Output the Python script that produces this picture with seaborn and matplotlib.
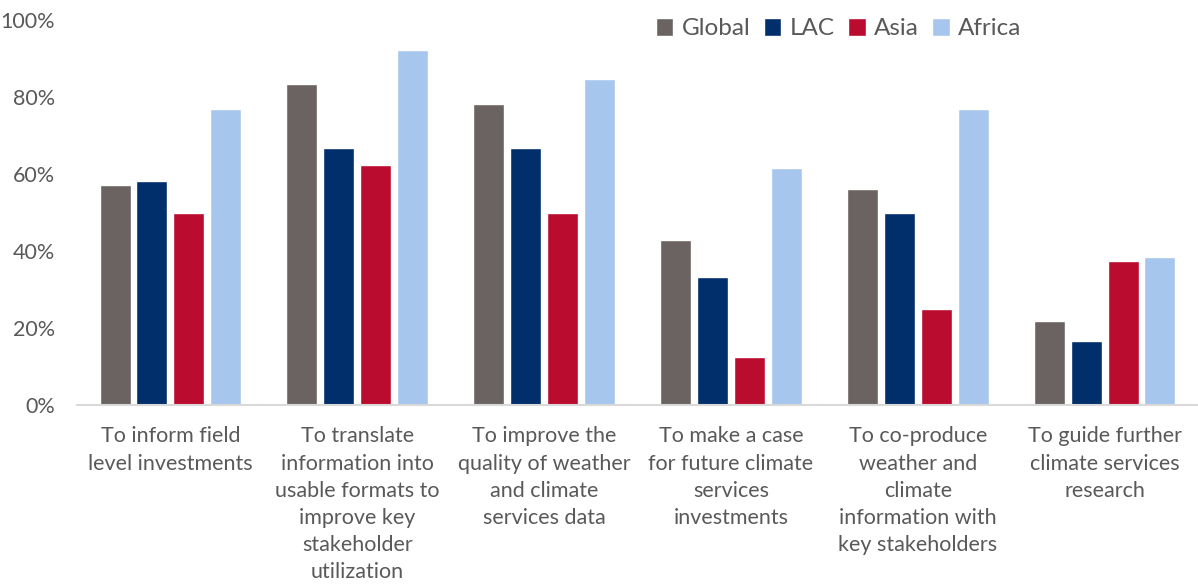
import numpy as np
import pandas as pd
import matplotlib
matplotlib.use("Agg")
import matplotlib.pyplot as plt
import seaborn as sns

# Purposes for which climate services information is used (share of respondents)
purposes = [
    "To inform field\nlevel investments",
    "To translate\ninformation into\nusable formats to\nimprove key\nstakeholder\nutilization",
    "To improve the\nquality of weather\nand climate\nservices data",
    "To make a case\nfor future climate\nservices\ninvestments",
    "To co-produce\nweather and\nclimate\ninformation with\nkey stakeholders",
    "To guide further\nclimate services\nresearch",
]
regions = ["Global", "LAC", "Asia", "Africa"]

global_vals = [57.1, 83.3, 78.1, 42.9, 56.2, 21.9]
lac_vals = [58.3, 66.7, 66.7, 33.3, 50.0, 16.7]
asia_vals = [50.0, 62.5, 50.0, 12.5, 25.0, 37.5]
africa_vals = [76.9, 92.3, 84.6, 61.5, 76.9, 38.5]

palette = {"Global": "#6B6361", "LAC": "#002F6C", "Asia": "#BA0C2F", "Africa": "#A7C6ED"}
text_color = "#595959"

df = pd.DataFrame({
    "purpose": purposes * 4,
    "region": np.repeat(regions, len(purposes)),
    "share": global_vals + lac_vals + asia_vals + africa_vals,
})

sns.set_theme(style="white")
plt.rcParams["font.family"] = ["Lato", "DejaVu Sans"]

fig = plt.figure(figsize=(11.98, 5.88), dpi=100)
ax = fig.add_axes([0.0643, 0.3104, 0.9357, 0.6556])

sns.barplot(data=df, x="purpose", y="share", hue="region", order=purposes,
            hue_order=regions, palette=palette, width=0.79, gap=0.16,
            saturation=1, ax=ax, legend=True)

ax.set_ylim(0, 100)
ax.set_xlim(-0.5, len(purposes) - 0.5)
ax.set_yticks(np.arange(0, 101, 20))
ax.set_yticklabels([f"{v}%" for v in range(0, 101, 20)])
ax.set_xlabel("")
ax.set_ylabel("")

for side in ["top", "right", "left"]:
    ax.spines[side].set_visible(False)
ax.spines["bottom"].set_color("#D9D9D9")
ax.spines["bottom"].set_linewidth(1.5)

ax.tick_params(axis="y", length=0, pad=16, labelsize=15.5, labelcolor=text_color)
ax.tick_params(axis="x", length=0, pad=15, labelsize=15.5, labelcolor=text_color)
for lbl in ax.get_xticklabels():
    lbl.set_linespacing(1.45)
    lbl.set_verticalalignment("top")

handles, labels = ax.get_legend_handles_labels()
ax.legend(handles, labels, loc="center", bbox_to_anchor=(0.70, 0.951),
          bbox_transform=fig.transFigure, ncol=4, frameon=False,
          fontsize=17.5, labelcolor=text_color, handlelength=0.72,
          handleheight=0.72, handletextpad=0.35, columnspacing=0.55,
          borderpad=0, borderaxespad=0)

fig.savefig("out.png", dpi=100)
